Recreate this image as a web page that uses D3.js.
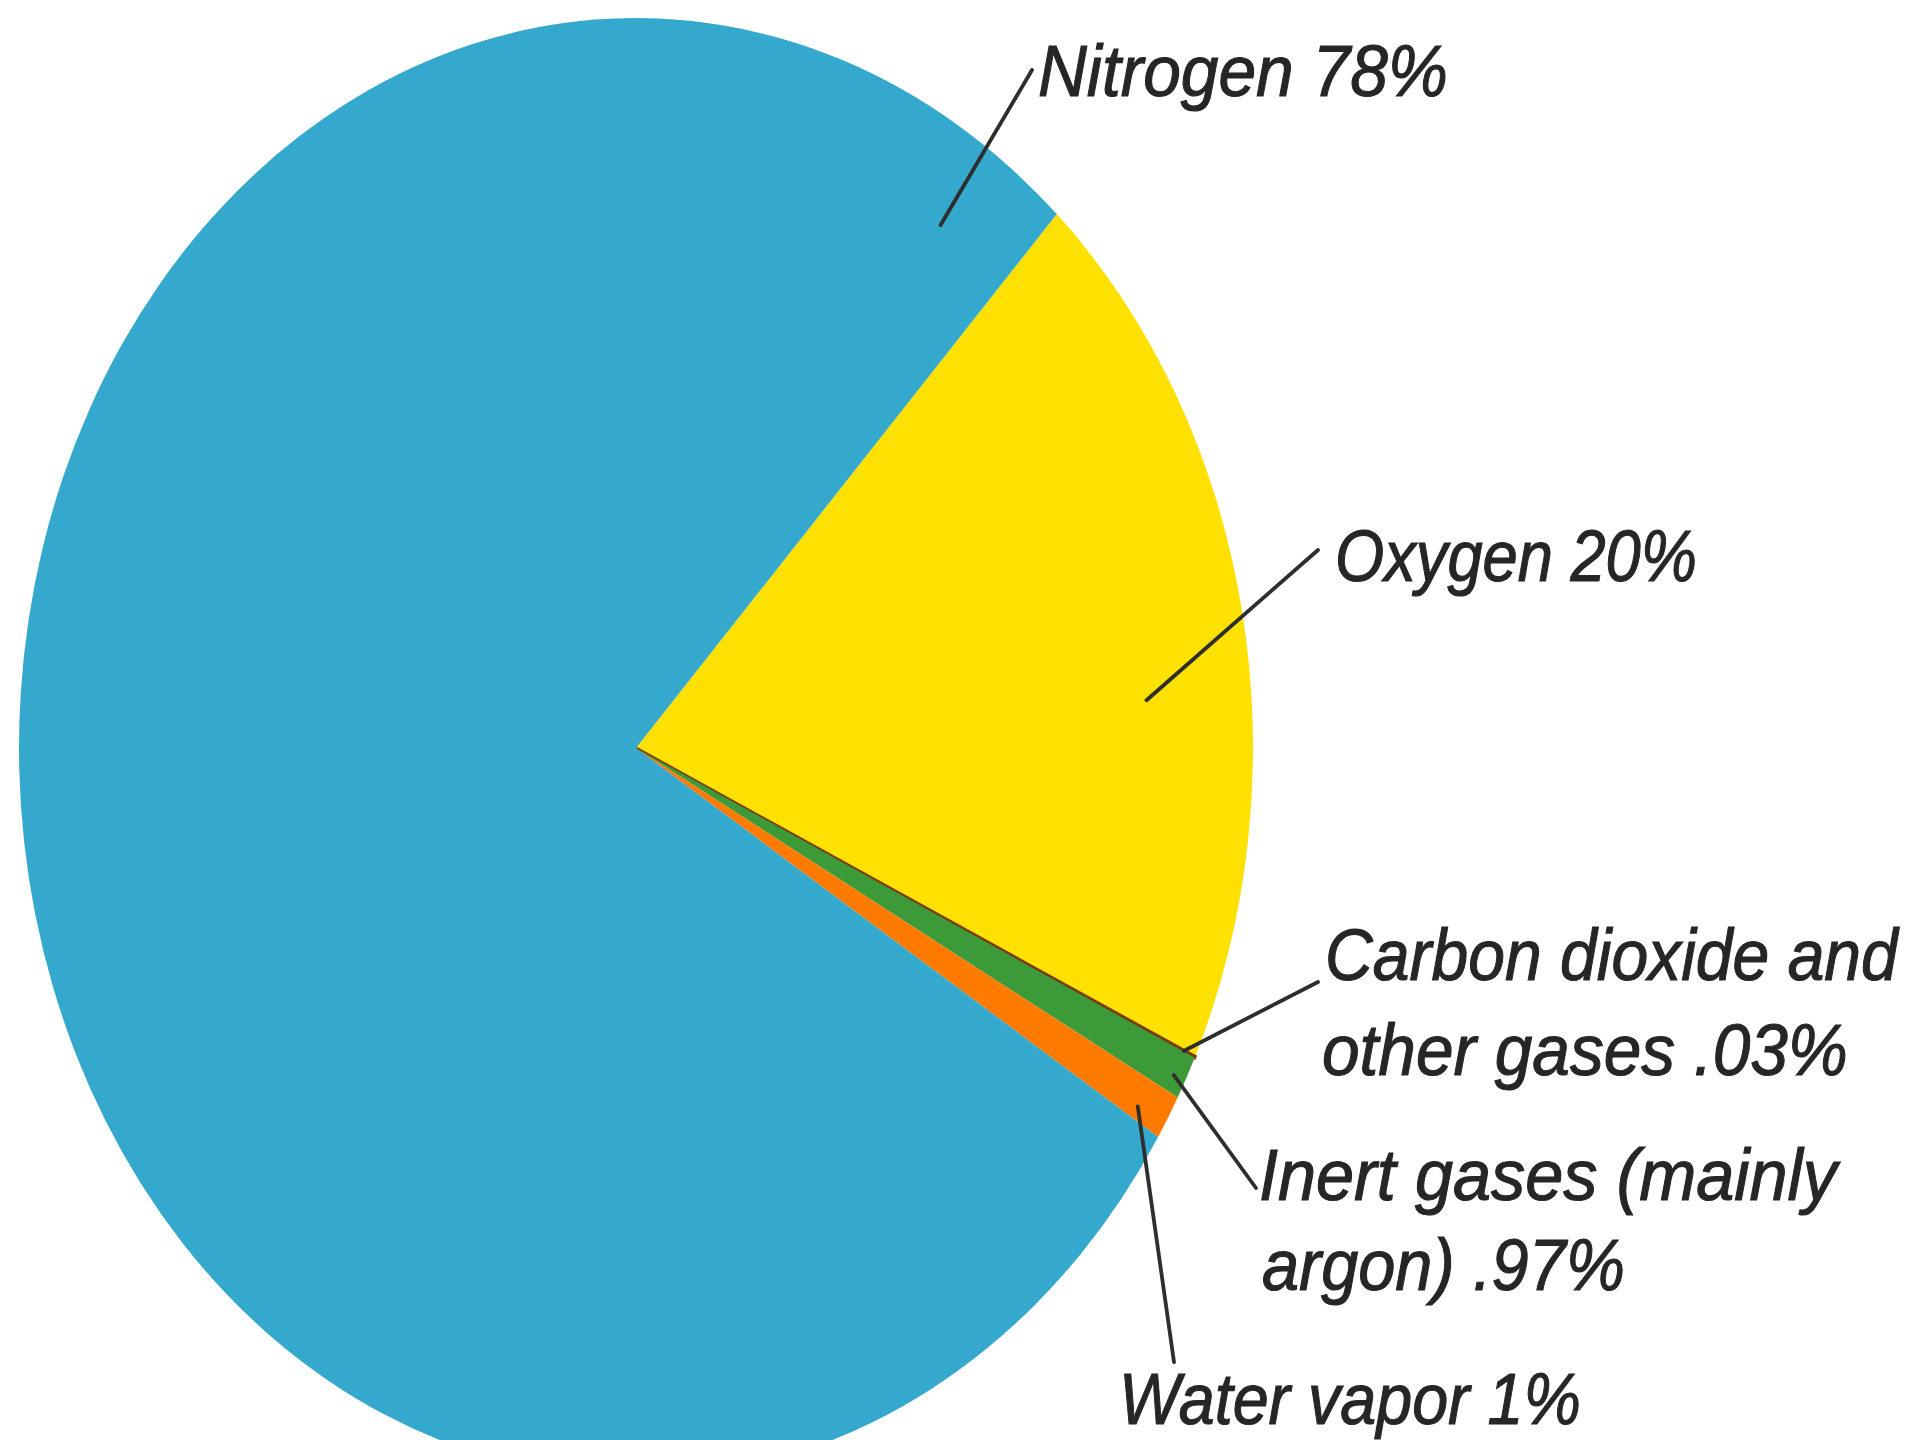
<!DOCTYPE html>
<html>
<head>
<meta charset="utf-8">
<script src="https://cdn.jsdelivr.net/npm/d3@7/dist/d3.min.js"></script>
<style>
  html, body { margin: 0; padding: 0; background: #ffffff; overflow: hidden; }
  svg { display: block; }
  .lbl { font-family: "Liberation Sans", Arial, sans-serif; font-style: italic; fill: #262626; stroke: #262626; stroke-width: 1.1; }
</style>
</head>
<body>
<svg id="chart" width="1913" height="1440"></svg>
<script>
// ---- data ----
const categories = ["Oxygen", "Carbon dioxide and other gases", "Inert gases (mainly argon)", "Water vapor", "Nitrogen"];
const values = [20, 0.03, 0.97, 1, 78];
const labelLines = [
  ["Oxygen 20%"],
  ["Carbon dioxide and", "other gases .03%"],
  ["Inert gases (mainly", "argon) .97%"],
  ["Water vapor 1%"],
  ["Nitrogen 78%"]
];

// ---- styles / layout ----
const colors = ["#FFE100", "#7a3a0c", "#3c9b38", "#FF7B00", "#35A8CE"];
const cx = 636, cy = 748, rx = 617, ry = 730;
const startDeg = 43;
const fontSize = 72;
// label layout: x per line, baselines, target widths, leader anchor (fraction within slice, radius fraction), leader end
const labelLayout = [
  { x: [1335],       y: [581],        w: [362],      t: 0.59, r: 0.83,  end: [1318, 550] },
  { x: [1325, 1322], y: [980, 1075],  w: [573, 526], t: 0.5,  r: 0.98,  end: [1318, 982] },
  { x: [1259, 1262], y: [1200, 1290], w: [578, 363], t: 0.6,  r: 0.98,  end: [1256, 1188] },
  { x: [1119],       y: [1424],       w: [462],      t: 0.7,  r: 0.95,  end: [1174, 1362] },
  { x: [1038],       y: [96],         w: [410],      t: 0.97, r: 0.87,  end: [1032, 70] }
];

const svg = d3.select("#chart");
const data = categories.map((c, i) => ({ name: c, value: values[i], i }));

const pie = d3.pie()
  .sort(null)
  .value(d => d.value)
  .startAngle(startDeg * Math.PI / 180)
  .endAngle(startDeg * Math.PI / 180 + 2 * Math.PI);

const arcs = pie(data);
const arc = d3.arc().innerRadius(0).outerRadius(rx);

const g = svg.append("g")
  .attr("transform", `translate(${cx},${cy}) scale(1,${ry / rx})`);

g.selectAll("path.slice")
  .data(arcs)
  .join("path")
  .attr("class", "slice")
  .attr("d", arc)
  .attr("fill", d => colors[d.data.i])
  .attr("stroke", d => d.data.i === 1 ? colors[1] : "none")
  .attr("stroke-width", d => d.data.i === 1 ? 3 : 0)
  .attr("vector-effect", "non-scaling-stroke");

// leader lines
function pointAt(angle, rf) {
  return [cx + Math.sin(angle) * rx * rf, cy - Math.cos(angle) * ry * rf];
}
arcs.forEach(a => {
  const L = labelLayout[a.data.i];
  const ang = a.startAngle + (a.endAngle - a.startAngle) * L.t;
  const p0 = pointAt(ang, L.r);
  svg.append("line")
    .attr("x1", p0[0]).attr("y1", p0[1])
    .attr("x2", L.end[0]).attr("y2", L.end[1])
    .attr("stroke", "#2e2e2e")
    .attr("stroke-width", 3.8)
    .attr("stroke-linecap", "round");
});

// labels: each line drawn at natural size, then condensed horizontally to the target width
arcs.forEach(a => {
  const L = labelLayout[a.data.i];
  const lg = svg.append("g").attr("class", "label-group");
  labelLines[a.data.i].forEach((line, k) => {
    const holder = lg.append("g");
    const t = holder.append("text")
      .attr("class", "lbl")
      .attr("font-size", fontSize)
      .attr("x", 0)
      .attr("y", 0)
      .text(line);
    const natural = t.node().getComputedTextLength();
    const sx = L.w[k] / natural;
    holder.attr("transform", `translate(${L.x[k]},${L.y[k]}) scale(${sx},1)`);
  });
});
</script>
</body>
</html>
